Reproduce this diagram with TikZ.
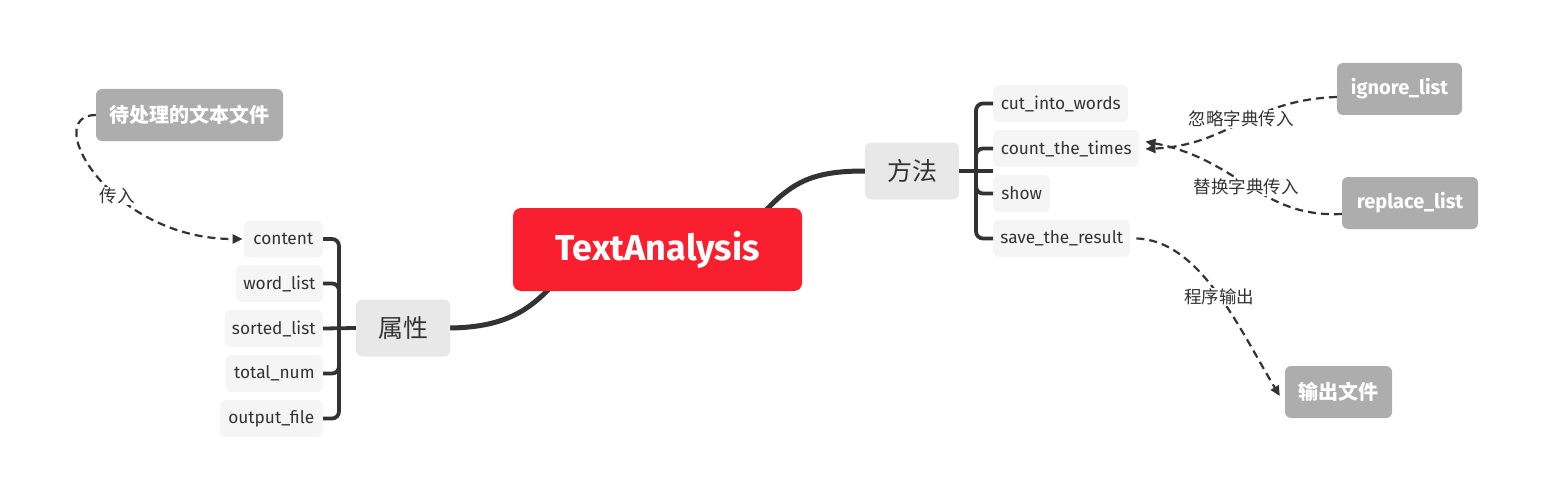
\documentclass[tikz,border=0pt]{standalone}
\usepackage{fontspec}
\setmainfont{Fira Sans}
\newfontfamily\cjk{Noto Sans CJK SC}
\usetikzlibrary{arrows.meta,backgrounds}
\definecolor{txt}{HTML}{333333}
\definecolor{linec}{HTML}{333333}
\definecolor{leafbg}{HTML}{F5F5F5}
\definecolor{branchbg}{HTML}{E8E8E8}
\definecolor{graybg}{HTML}{ADADAD}
\definecolor{rootred}{HTML}{F91F2E}
\tikzset{
  base/.style={inner sep=0pt, rounded corners=6pt, align=center, text=txt},
  leafbox/.style={base, fill=leafbg, minimum height=37pt, font=\fontsize{17.3}{20}\selectfont},
  branchbox/.style={base, fill=branchbg, minimum height=57pt, minimum width=94pt, font=\cjk\fontsize{25}{28}\selectfont},
  graybox/.style={base, fill=graybg, text=white, minimum height=52pt, font=\bfseries\fontsize{20}{24}\selectfont},
  graycjk/.style={graybox, font=\cjk\bfseries\fontsize{20}{24}\selectfont},
  rootbox/.style={base, fill=rootred, text=white, rounded corners=8pt, minimum width=289pt, minimum height=83pt, font=\bfseries\fontsize{36}{40}\selectfont},
  trunk/.style={draw=linec, line width=5pt},
  bracket/.style={draw=linec, line width=3.8pt, rounded corners=7pt},
  rel/.style={draw=linec, line width=2.2pt, dash pattern=on 8pt off 5pt, -{Triangle[length=10pt,width=9pt]}},
  rellabel/.style={fill=white, inner sep=1pt, text=txt, font=\cjk\fontsize{17.5}{20}\selectfont}
}
\begin{document}
\begin{tikzpicture}[x=1pt,y=-1pt]
\useasboundingbox (0,0) rectangle (1541,500);
% central and branches
\node[rootbox] (root) at (657.5,249.5) {TextAnalysis};
\node[branchbox] (attr) at (403,328) {属性};
\node[branchbox] (method) at (912,171) {方法};
% left leaves
\node[leafbox, anchor=east, minimum width=79pt] (content) at (323,239) {content};
\node[leafbox, anchor=east, minimum width=87pt] (wordlist) at (323,283.5) {word\_list};
\node[leafbox, anchor=east, minimum width=98pt] (sortedlist) at (323,328.5) {sorted\_list};
\node[leafbox, anchor=east, minimum width=97pt] (totalnum) at (323,373.5) {total\_num};
\node[leafbox, anchor=east, minimum width=103pt] (outputfile) at (323,418.5) {output\_file};
% right leaves
\node[leafbox, anchor=west, minimum width=135pt] (cut) at (993,103.5) {cut\_into\_words};
\node[leafbox, anchor=west, minimum width=146pt] (count) at (993,148.5) {count\_the\_times};
\node[leafbox, anchor=west, minimum width=57pt] (show) at (993,193.5) {show};
\node[leafbox, anchor=west, minimum width=137pt] (save) at (993,238.5) {save\_the\_result};
% gray nodes
\node[graycjk, minimum width=187pt] (src) at (189.5,115) {待处理的文本文件};
\node[graybox, minimum width=125pt] (ignore) at (1399.5,89) {ignore\_list};
\node[graybox, minimum width=136pt] (replace) at (1410,203) {replace\_list};
\node[graycjk, minimum width=107pt] (out) at (1338.5,392) {输出文件};
% bracket junctions
\coordinate (lj) at (339,328.5);
\coordinate (rj) at (976,171);
\begin{scope}[on background layer]
  \draw[trunk] (attr.east) .. controls (520,327) and (540,300) .. (575,260);
  \draw[trunk] (method.west) .. controls (805,171) and (785,185) .. (745,235);
\end{scope}
% left bracket
\draw[bracket] (content.east) -| (lj) |- (outputfile.east);
\draw[bracket] (wordlist.east) -| (lj);
\draw[bracket] (totalnum.east) -| (lj);
\draw[bracket, rounded corners=0pt] (sortedlist.east) -- (attr.west);
% right bracket
\draw[bracket] (cut.west) -| (rj) |- (save.west);
\draw[bracket] (count.west) -| (rj);
\draw[bracket] (show.west) -| (rj);
\draw[bracket, rounded corners=0pt] (method.east) -- (cut.west |- rj);
% relations
\draw[rel] (src.west) .. controls (40,115) and (110,239) .. ([xshift=-1pt]content.west);
\draw[rel] ([yshift=-8pt]ignore.west) .. controls (1250,100) and (1230,145) .. ([xshift=6pt,yshift=-0.5pt]count.east);
\draw[rel] ([yshift=-11pt]replace.west) .. controls (1260,218) and (1240,160) .. ([xshift=6pt,yshift=7pt]count.east);
\draw[rel] ([xshift=6pt]save.east) .. controls (1200,240) and (1240,330) .. ([xshift=-5pt,yshift=-4pt]out.west);
% relation labels
\node[rellabel] (l1) at (117,196) {传入};
\node[rellabel] (l2) at (1241,119) {忽略字典传入};
\node[rellabel] (l3) at (1246,187) {替换字典传入};
\node[rellabel] (l4) at (1219,297) {程序输出};
\end{tikzpicture}
\end{document}
